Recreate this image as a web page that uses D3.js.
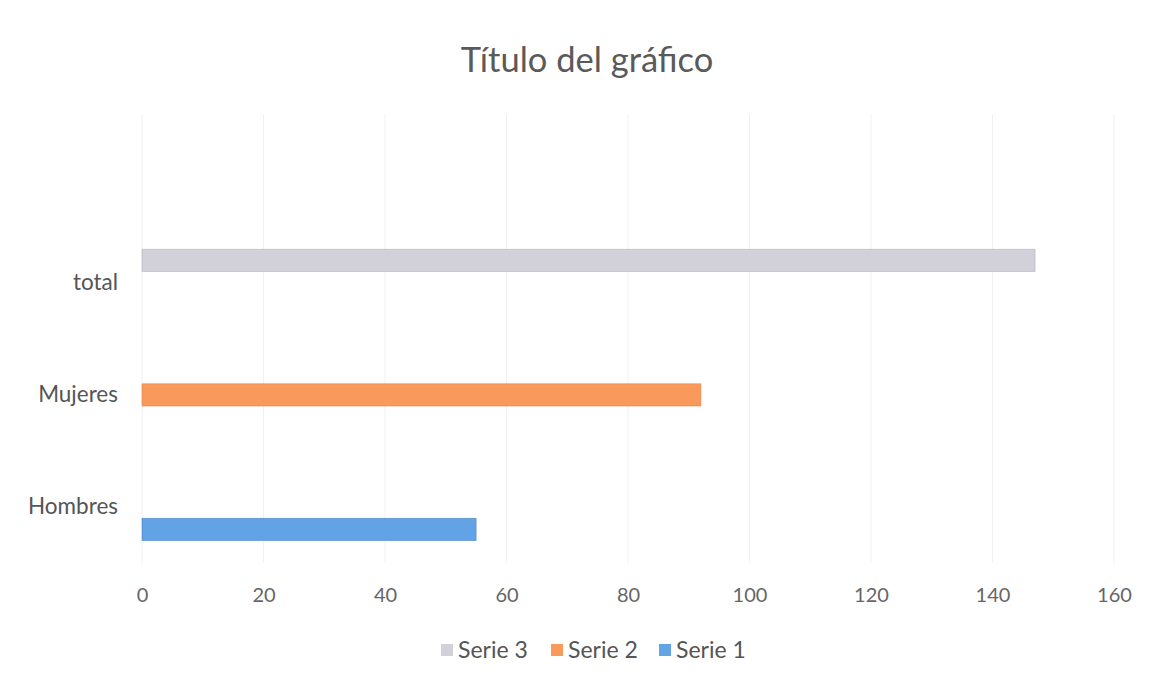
<!DOCTYPE html>
<html>
<head>
<meta charset="utf-8">
<script src="https://cdn.jsdelivr.net/npm/d3@7"></script>
<style>
  body { margin: 0; background: #fff; }
  text { font-family: Lato, "Open Sans", sans-serif; }
</style>
</head>
<body>
<svg width="1153" height="681"></svg>
<script>
// data
var categories = ["Hombres", "Mujeres", "total", ""];
var seriesNames = ["Serie 1", "Serie 2", "Serie 3"];
var serie1 = [55, 0, 0, null];
var serie2 = [0, 92, 0, null];
var serie3 = [0, 0, 147, null];
var xTicks = [0, 20, 40, 60, 80, 100, 120, 140, 160];
var colors = ["#62a3e6", "#f99a5c", "#d2d1d9"];
var strokes = ["#3d78b8", "#e07a3a", "#a9a8b0"];

var values = [serie1, serie2, serie3];

var svg = d3.select("svg"),
  width = +svg.attr("width"),
  height = +svg.attr("height");

var margin = { left: 142, right: 39, top: 114, bottom: 118 };

var x = d3.scaleLinear()
  .domain([0, 160])
  .range([margin.left, width - margin.right]);

var y = d3.scaleBand()
  .domain(categories)
  .range([height - margin.bottom, margin.top]);

var bw = y.bandwidth();
var yInner = d3.scaleBand()
  .domain(seriesNames)
  .range([bw * 0.8, bw * 0.205]);

// gridlines
svg.append("g")
  .selectAll("line")
  .data(xTicks)
  .enter().append("line")
  .attr("x1", function(d) { return x(d); })
  .attr("x2", function(d) { return x(d); })
  .attr("y1", margin.top)
  .attr("y2", height - margin.bottom)
  .attr("stroke", "#f1f1f1")
  .attr("stroke-width", 1);

// bars
seriesNames.forEach(function(s, si) {
  svg.append("g")
    .selectAll("rect")
    .data(categories.map(function(c, ci) { return { cat: c, v: values[si][ci] }; })
      .filter(function(d) { return d.v; }))
    .enter().append("rect")
    .attr("x", x(0))
    .attr("y", function(d) { return y(d.cat) + yInner(s); })
    .attr("width", function(d) { return x(d.v) - x(0); })
    .attr("height", yInner.bandwidth())
    .attr("fill", colors[si])
    .attr("stroke", strokes[si])
    .attr("stroke-width", 0.8)
    .attr("stroke-opacity", 0.6);
});

// x axis labels
var xAxis = d3.axisBottom(x).tickValues(xTicks).tickSize(0).tickPadding(0);
var gx = svg.append("g")
  .attr("transform", "translate(0," + (height - margin.bottom + 25) + ")")
  .call(xAxis);
gx.select(".domain").remove();
gx.selectAll("text")
  .attr("font-family", "Lato, 'Open Sans', sans-serif")
  .style("font-size", "20px")
  .attr("fill", "#666");

// category labels
var yAxis = d3.axisLeft(y).tickSize(0).tickPadding(0);
var gy = svg.append("g")
  .attr("transform", "translate(118,0)")
  .call(yAxis);
gy.select(".domain").remove();
gy.selectAll("text")
  .attr("font-family", "Lato, 'Open Sans', sans-serif")
  .style("font-size", "22.5px")
  .attr("fill", "#555");

// title
svg.append("text")
  .attr("x", 587)
  .attr("y", 72)
  .attr("text-anchor", "middle")
  .style("font-size", "34.5px")
  .attr("fill", "#5a5a5a")
  .text("Título del gráfico");

// legend (Serie 3, Serie 2, Serie 1)
var legendItems = [2, 1, 0];
var legendX = [441, 551, 659];
var lg = svg.append("g").selectAll("g")
  .data(legendItems)
  .enter().append("g")
  .attr("transform", function(d, i) { return "translate(" + legendX[i] + ",644)"; });
lg.append("rect")
  .attr("width", 12)
  .attr("height", 12)
  .attr("fill", function(d) { return colors[d]; });
lg.append("text")
  .attr("x", 17)
  .attr("y", 13.5)
  .style("font-size", "23px")
  .attr("fill", "#555")
  .text(function(d) { return seriesNames[d]; });
</script>
</body>
</html>
